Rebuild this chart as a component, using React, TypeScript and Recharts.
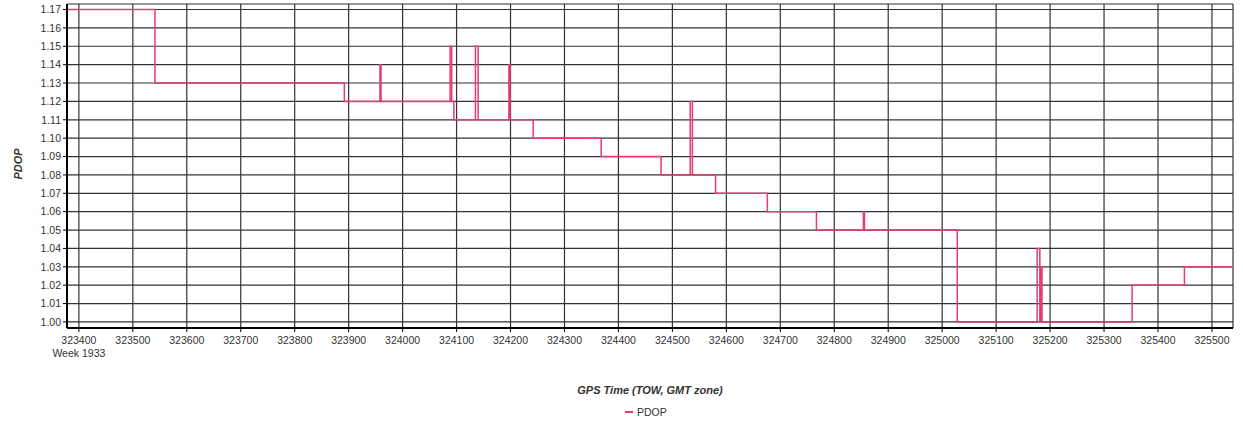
import { LineChart, Line, XAxis, YAxis, CartesianGrid } from "recharts";

// ---- Data (GPS time of week, seconds) ----
const gpsTime: number[] = [
  323378, 323541, 323892, 323958, 323960, 324088, 324091, 324095, 324135, 324140,
  324197, 324199, 324242, 324368, 324479, 324533, 324537, 324580, 324676, 324767,
  324854, 324856, 325028, 325176, 325181, 325183, 325185, 325352, 325449, 325539,
];

const pdop: number[] = [
  1.17, 1.13, 1.12, 1.14, 1.12, 1.15, 1.12, 1.11, 1.15, 1.11,
  1.14, 1.11, 1.1, 1.09, 1.08, 1.12, 1.08, 1.07, 1.06, 1.05,
  1.06, 1.05, 1.0, 1.04, 1.0, 1.03, 1.0, 1.02, 1.03, 1.03,
];

const xTicks: number[] = [
  323400, 323500, 323600, 323700, 323800, 323900, 324000, 324100, 324200, 324300, 324400,
  324500, 324600, 324700, 324800, 324900, 325000, 325100, 325200, 325300, 325400, 325500,
];

const yTicks: number[] = [
  1.0, 1.01, 1.02, 1.03, 1.04, 1.05, 1.06, 1.07, 1.08, 1.09,
  1.1, 1.11, 1.12, 1.13, 1.14, 1.15, 1.16, 1.17,
];

const xDomain: [number, number] = [323378, 325539];
const yDomain: [number, number] = [0.9967, 1.173];

const weekLabel = "Week 1933";
const seriesName = "PDOP";

const data = gpsTime.map((t, i) => ({ t, pdop: pdop[i] }));

const LINE = "#E63C6E";
const TEXT = "#333";
const FONT = "'Liberation Sans', Arial, sans-serif";

const XTick = (props: any) => {
  const { x, y, payload, index } = props;
  return (
    <g transform={`translate(${x},${y})`}>
      <text textAnchor="middle" dy={10} fontSize={10.5} fill={TEXT} fontFamily={FONT}>
        {payload.value}
      </text>
      {index === 0 && (
        <text textAnchor="middle" dy={23} fontSize={10.5} fill={TEXT} fontFamily={FONT}>
          {weekLabel}
        </text>
      )}
    </g>
  );
};

export default function App() {
  return (
    <div style={{ position: "absolute", left: 0, top: 0, width: 1243, height: 425, background: "#fff" }}>
      <LineChart
        width={1243}
        height={425}
        data={data}
        margin={{ top: 4, right: 10, left: 0, bottom: 67 }}
      >
        <CartesianGrid stroke="#333" strokeWidth={1.2} />
        <XAxis
          dataKey="t"
          type="number"
          domain={xDomain}
          ticks={xTicks}
          interval={0}
          allowDataOverflow
          height={30}
          tick={<XTick />}
          tickSize={4}
          tickLine={{ stroke: "#000" }}
          axisLine={{ stroke: "#000", strokeWidth: 2 }}
          label={{
            content: (p: any) => {
              const vb = p.viewBox;
              return (
                <text
                  x={vb.x + vb.width / 2}
                  y={vb.y + 66}
                  textAnchor="middle"
                  fontSize={11}
                  fontWeight="bold"
                  fontStyle="italic"
                  fill={TEXT}
                  fontFamily={FONT}
                >
                  GPS Time (TOW, GMT zone)
                </text>
              );
            },
          }}
        />
        <XAxis xAxisId="top" orientation="top" height={0} tick={false} tickLine={false} axisLine={{ stroke: "#000", strokeWidth: 2 }} />
        <YAxis
          type="number"
          domain={yDomain}
          ticks={yTicks}
          interval={0}
          allowDataOverflow
          width={67}
          tickSize={4}
          tickLine={{ stroke: "#000" }}
          axisLine={{ stroke: "#000", strokeWidth: 2 }}
          tickFormatter={(v: number) => v.toFixed(2)}
          tick={{ fontSize: 10.5, fill: TEXT, fontFamily: FONT }}
          label={{
            content: (p: any) => {
              const vb = p.viewBox;
              const cy = vb.y + vb.height / 2 - 2;
              return (
                <text
                  x={18}
                  y={cy}
                  transform={`rotate(-90, 18, ${cy})`}
                  textAnchor="middle"
                  dominantBaseline="central"
                  fontSize={11}
                  fontWeight="bold"
                  fontStyle="italic"
                  fill={TEXT}
                  fontFamily={FONT}
                >
                  PDOP
                </text>
              );
            },
          }}
        />
        <YAxis yAxisId="right" orientation="right" width={0} tick={false} tickLine={false} axisLine={{ stroke: "#000", strokeWidth: 2 }} />
        <Line
          type="stepAfter"
          dataKey="pdop"
          name={seriesName}
          stroke={LINE}
          strokeWidth={1.5}
          dot={false}
          isAnimationActive={false}
        />
      </LineChart>

      {/* Legend */}
      <div
        style={{
          position: "absolute",
          top: 406,
          left: 625,
          display: "flex",
          alignItems: "center",
          gap: 4,
          fontFamily: FONT,
          fontSize: 10.5,
          color: TEXT,
        }}
      >
        <span style={{ width: 8, height: 2, background: LINE, display: "inline-block" }} />
        <span>{seriesName}</span>
      </div>
    </div>
  );
}
